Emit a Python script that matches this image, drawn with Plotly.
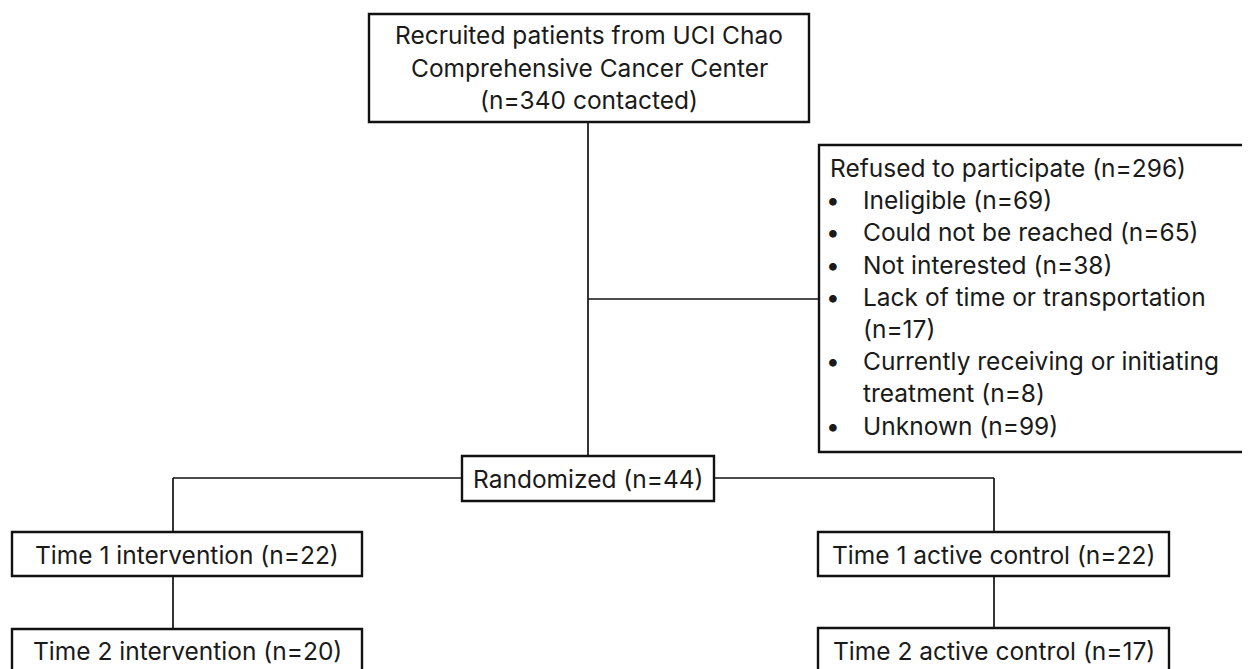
import plotly.graph_objects as go

# ---- data (text content and counts) ----
top_lines = ["Recruited patients from UCI Chao", "Comprehensive Cancer Center", "(n=340 contacted)"]
refused_total = 296
refused_reasons = ["Ineligible", "Could not be reached", "Not interested",
                   "Lack of time or transportation", "Currently receiving or initiating treatment", "Unknown"]
refused_counts = [69, 65, 38, 17, 8, 99]
# how each reason wraps inside the box (line break index in words, None = no wrap)
refused_wrap_words = [None, None, None, 5, 4, None]
randomized_n = 44
arm_labels = ["intervention", "active control"]
time1_counts = [22, 22]
time2_counts = [20, 17]

# ---- layout geometry (page pixels; y grows downward) ----
W, H = 1250, 669
PAGE_MARGIN = 8   # default body margin of the html page
FONT = "Inter"
FS = 24.5
TXT = "#1a1a1a"
BOX_LW = 2.4
LINE_LW = 1.7

top_box = (369, 809, 14, 122)
refused_box = (819, 1262, 145, 452)   # runs off the right edge of the picture
rand_box = (462, 714, 456, 501)
arm_x = [173, 994]
t1_boxes = [(12, 362, 532, 576), (818, 1169, 532, 576)]
t2_boxes = [(12, 362, 629, 690), (818, 1169, 628, 690)]
main_x = 588
branch_y = 299
arm_y = 478

fig = go.Figure()
shapes = []
annotations = []


def rect(b):
    shapes.append(dict(type="rect", xref="x", yref="y", x0=b[0], x1=b[1], y0=b[2], y1=b[3],
                       line=dict(color="#111111", width=BOX_LW), fillcolor="white", layer="above"))


def open_box(b):
    # box cut by the right edge: left, top and bottom sides only
    shapes.append(dict(type="path", xref="x", yref="y",
                       path=f"M{b[1]},{b[2]} L{b[0]},{b[2]} L{b[0]},{b[3]} L{b[1]},{b[3]}",
                       line=dict(color="#111111", width=BOX_LW), layer="above"))


def seg(x0, y0, x1, y1):
    shapes.append(dict(type="line", xref="x", yref="y", x0=x0, y0=y0, x1=x1, y1=y1,
                       line=dict(color="#111111", width=LINE_LW), layer="below"))


def text(x, y, s, anchor="center"):
    annotations.append(dict(x=x, y=y, xref="x", yref="y", text=s, showarrow=False,
                            xanchor=anchor, yanchor="middle",
                            font=dict(family=FONT, size=FS, color=TXT)))


# connectors
seg(main_x, top_box[3], main_x, rand_box[2])
seg(main_x, branch_y, refused_box[0], branch_y)
seg(arm_x[0], arm_y, rand_box[0], arm_y)
seg(rand_box[1], arm_y, arm_x[1], arm_y)
for i in range(2):
    seg(arm_x[i], arm_y, arm_x[i], t1_boxes[i][2])
    seg(arm_x[i], t1_boxes[i][3], arm_x[i], t2_boxes[i][2])

# boxes
for b in [top_box, rand_box] + t1_boxes + t2_boxes:
    rect(b)
open_box(refused_box)

# top box text
cx = (top_box[0] + top_box[1]) / 2
for i, s in enumerate(top_lines):
    text(cx, 35 + i * 32.5, s)

# refused box text
line_y0 = 168
step = 32.2
text(828, line_y0, f"Refused to participate (n={refused_total})", anchor="left")
row = 1
for reason, n, wrap in zip(refused_reasons, refused_counts, refused_wrap_words):
    full = f"{reason} (n={n})"
    words = full.split(" ")
    if wrap is None:
        parts = [full]
    else:
        parts = [" ".join(words[:wrap]), " ".join(words[wrap:])]
    text(824, line_y0 + row * step, "•", anchor="left")
    for p in parts:
        text(861, line_y0 + row * step, p, anchor="left")
        row += 1

# randomized
text((rand_box[0] + rand_box[1]) / 2, 479, f"Randomized (n={randomized_n})")

# arms
for i in range(2):
    b1 = t1_boxes[i]
    b2 = t2_boxes[i]
    text((b1[0] + b1[1]) / 2, 555, f"Time 1 {arm_labels[i]} (n={time1_counts[i]})")
    text((b2[0] + b2[1]) / 2, 651, f"Time 2 {arm_labels[i]} (n={time2_counts[i]})")

fig.update_layout(
    width=W - PAGE_MARGIN, height=H - PAGE_MARGIN,
    margin=dict(l=0, r=0, t=0, b=0),
    paper_bgcolor="white", plot_bgcolor="white",
    xaxis=dict(range=[PAGE_MARGIN, W], visible=False, fixedrange=True),
    yaxis=dict(range=[H, PAGE_MARGIN], visible=False, fixedrange=True),
    shapes=shapes, annotations=annotations, showlegend=False,
)
fig.write_html("out.html")
